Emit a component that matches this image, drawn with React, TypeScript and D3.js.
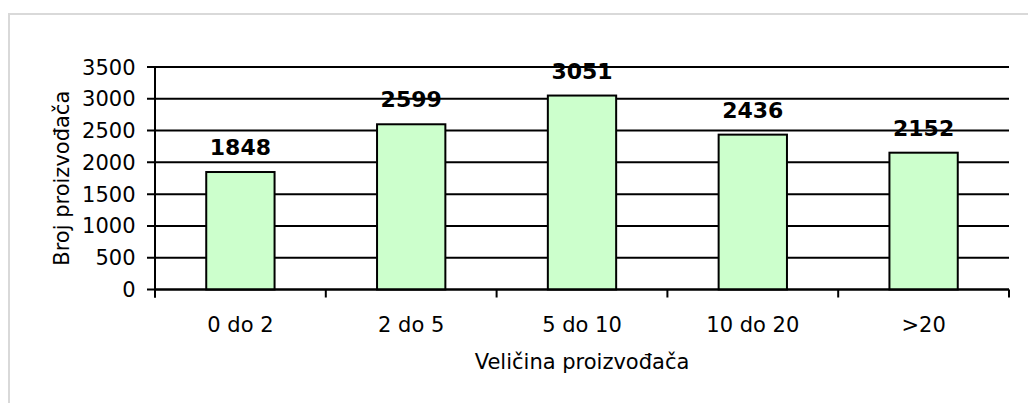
import React from "react";
import * as d3 from "d3";

const categories = ["0 do 2", "2 do 5", "5 do 10", "10 do 20", ">20"];
const values = [1848, 2599, 3051, 2436, 2152];
const yTicks = [0, 500, 1000, 1500, 2000, 2500, 3000, 3500];

const W = 1028;
const H = 403;
const m = { left: 155, right: 1009, top: 67, bottom: 289.5 };
const font = "'DejaVu Sans', Verdana, sans-serif";

export default function App() {
  const x = d3.scaleBand<string>().domain(categories).range([m.left, m.right]).paddingInner(0.6).paddingOuter(0.3);
  const xOuter = d3.scaleBand<string>().domain(categories).range([m.left, m.right]);
  const y = d3.scaleLinear().domain([0, 3500]).range([m.bottom, m.top]);
  const tickEdges = categories.map((c) => xOuter(c) as number).concat([m.right]);

  return (
    <svg width={W} height={H} style={{ position: "absolute", left: 0, top: 0 }}>
      <rect x={0} y={0} width={W} height={H} fill="#fff" />
      <path d={`M9,${H} V14 H${W}`} fill="none" stroke="#d9d9d9" strokeWidth={2} />
      {yTicks.map((t) => (
        <g key={t}>
          <line x1={m.left - 8} x2={m.right} y1={y(t)} y2={y(t)} stroke="#000" strokeWidth={2} />
          <text x={135.5} y={y(t)} dy="0.36em" textAnchor="end" fontFamily={font} fontSize={21} fill="#000">
            {t}
          </text>
        </g>
      ))}
      {categories.map((c, i) => (
        <g key={c}>
          <rect
            x={x(c)}
            y={y(values[i])}
            width={x.bandwidth()}
            height={m.bottom - y(values[i])}
            fill="#ccffcc"
            stroke="#000"
            strokeWidth={2}
          />
          <text
            x={(x(c) as number) + x.bandwidth() / 2}
            y={y(values[i]) - 17}
            textAnchor="middle"
            fontFamily={font}
            fontWeight="bold"
            fontSize={22}
            fill="#000"
          >
            {values[i]}
          </text>
          <text
            x={(xOuter(c) as number) + xOuter.bandwidth() / 2}
            y={332}
            textAnchor="middle"
            fontFamily={font}
            fontSize={21}
            fill="#000"
          >
            {c}
          </text>
        </g>
      ))}
      <line x1={m.left} x2={m.left} y1={m.top} y2={m.bottom + 8} stroke="#000" strokeWidth={2} />
      <line x1={m.left} x2={m.right} y1={m.bottom} y2={m.bottom} stroke="#000" strokeWidth={2} />
      {tickEdges.map((tx, i) => (
        <line key={i} x1={tx} x2={tx} y1={m.bottom} y2={m.bottom + 8} stroke="#000" strokeWidth={2} />
      ))}
      <text x={(m.left + m.right) / 2} y={368.5} textAnchor="middle" fontFamily={font} fontSize={21} fill="#000">
        Veličina proizvođača
      </text>
      <text
        transform={`translate(68.5,${(m.top + m.bottom) / 2}) rotate(-90)`}
        textAnchor="middle"
        fontFamily={font}
        fontSize={21}
        fill="#000"
      >
        Broj proizvođača
      </text>
    </svg>
  );
}
